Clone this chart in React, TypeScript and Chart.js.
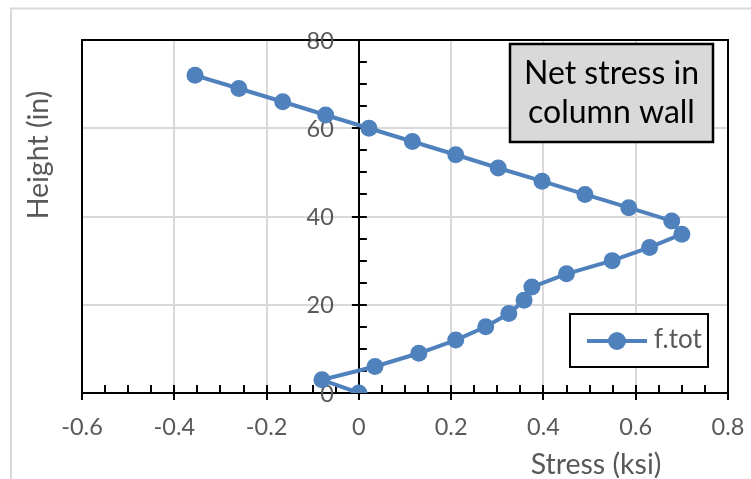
import React, { useEffect, useRef } from "react";
import { Chart, registerables } from "chart.js";

Chart.register(...registerables);

const heights = [0, 3, 6, 9, 12, 15, 18, 21, 24, 27, 30, 33, 36, 39, 42, 45, 48, 51, 54, 57, 60, 63, 66, 69, 72];
const stress = [0, -0.08, 0.035, 0.13, 0.21, 0.275, 0.325, 0.358, 0.375, 0.45, 0.549, 0.63, 0.7, 0.678, 0.585, 0.49, 0.397, 0.302, 0.21, 0.116, 0.022, -0.072, -0.165, -0.26, -0.355];

const xTickValues = [-0.6, -0.4, -0.2, 0, 0.2, 0.4, 0.6, 0.8];
const xTickLabels = ["-0.6", "-0.4", "-0.2", "0", "0.2", "0.4", "0.6", "0.8"];
const yTickValues = [0, 20, 40, 60, 80];
const yTickLabels = ["0", "20", "40", "60", "80"];
const xMinorStep = 0.05;
const yMinorStep = 5;

const seriesName = "f.tot";
const xTitle = "Stress (ksi)";
const yTitle = "Height (in)";
const titleLines = ["Net stress in", "column wall"];

const BLUE = "#4f81bd";
const GRID = "#d9d9d9";
const LABEL = "#595959";
const FONT = "Lato";
const TICK_SIZE = 23.5;

const decor = {
  id: "decor",
  beforeDraw(chart: any) {
    const ctx = chart.ctx;
    ctx.save();
    ctx.fillStyle = "#ffffff";
    ctx.fillRect(0, 0, chart.width, chart.height);
    ctx.strokeStyle = GRID;
    ctx.lineWidth = 2;
    ctx.beginPath();
    ctx.moveTo(11, chart.height);
    ctx.lineTo(11, 8.5);
    ctx.lineTo(chart.width, 8.5);
    ctx.stroke();
    ctx.restore();
  },
  beforeDatasetsDraw(chart: any) {
    const ctx = chart.ctx;
    const xs = chart.scales.x;
    const ys = chart.scales.y;
    const x0 = xs.getPixelForValue(0);
    const y0 = ys.getPixelForValue(0);
    const left = xs.getPixelForValue(xTickValues[0]);
    const right = xs.getPixelForValue(xTickValues[xTickValues.length - 1]);
    const top = ys.getPixelForValue(yTickValues[yTickValues.length - 1]);
    ctx.save();
    ctx.strokeStyle = "#000";
    ctx.lineWidth = 2;
    ctx.strokeRect(left, top, right - left, y0 - top);
    ctx.beginPath();
    const yMin = yTickValues[0];
    const yMax = yTickValues[yTickValues.length - 1];
    for (let v = yMin; v <= yMax + 1e-9; v += yMinorStep) {
      const p = Math.round(ys.getPixelForValue(v));
      const major = yTickValues.some((t) => Math.abs(t - v) < 1e-6);
      ctx.moveTo(major ? x0 - 7 : x0, p);
      ctx.lineTo(x0 + 8, p);
    }
    const xMin = xTickValues[0];
    const xMax = xTickValues[xTickValues.length - 1];
    const n = Math.round((xMax - xMin) / xMinorStep);
    for (let i = 0; i <= n; i++) {
      const v = xMin + i * xMinorStep;
      const p = Math.round(xs.getPixelForValue(v));
      const major = xTickValues.some((t) => Math.abs(t - v) < 1e-6);
      ctx.moveTo(p, y0 - 8);
      ctx.lineTo(p, major ? y0 + 7 : y0);
    }
    ctx.stroke();
    // y tick labels, left of the axis at x = 0
    ctx.fillStyle = LABEL;
    ctx.font = `${TICK_SIZE}px ${FONT}`;
    ctx.textAlign = "right";
    ctx.textBaseline = "middle";
    yTickValues.forEach((v, i) => {
      ctx.fillText(yTickLabels[i], x0 - 25, ys.getPixelForValue(v) + 1);
    });
    ctx.restore();
  },
  afterDraw(chart: any) {
    const ctx = chart.ctx;
    ctx.save();
    ctx.fillStyle = LABEL;
    ctx.font = `28.5px ${FONT}`;
    ctx.textAlign = "center";
    ctx.textBaseline = "middle";
    ctx.fillText(xTitle, 596, 465);
    ctx.save();
    ctx.translate(39, 155);
    ctx.rotate(-Math.PI / 2);
    ctx.fillText(yTitle, 0, 0);
    ctx.restore();

    // title box
    ctx.fillStyle = GRID;
    ctx.fillRect(510, 44, 203, 98);
    ctx.strokeStyle = "#000";
    ctx.lineWidth = 2.5;
    ctx.strokeRect(510, 44, 203, 98);
    ctx.fillStyle = "#000";
    ctx.font = `32px ${FONT}`;
    ctx.fillText(titleLines[0], 611.5, 74);
    ctx.fillText(titleLines[1], 611.5, 113);

    // legend
    ctx.fillStyle = "#fff";
    ctx.fillRect(570, 314, 138, 53);
    ctx.strokeStyle = "#000";
    ctx.lineWidth = 2;
    ctx.strokeRect(570, 314, 138, 53);
    ctx.strokeStyle = BLUE;
    ctx.lineWidth = 4;
    ctx.beginPath();
    ctx.moveTo(587, 341);
    ctx.lineTo(647, 341);
    ctx.stroke();
    ctx.fillStyle = BLUE;
    ctx.beginPath();
    ctx.arc(617, 341, 9, 0, Math.PI * 2);
    ctx.fill();
    ctx.fillStyle = LABEL;
    ctx.font = `26px ${FONT}`;
    ctx.textAlign = "left";
    ctx.fillText(seriesName, 654, 340);
    ctx.restore();
  },
};

export default function App() {
  const ref = useRef<HTMLCanvasElement>(null);
  useEffect(() => {
    if (!ref.current) return;
    const chart = new Chart(ref.current, {
      type: "line",
      data: {
        datasets: [
          {
            label: seriesName,
            data: heights.map((h, i) => ({ x: stress[i], y: h })),
            borderColor: BLUE,
            backgroundColor: BLUE,
            borderWidth: 4,
            pointRadius: 8.5,
            pointBackgroundColor: BLUE,
            pointBorderColor: BLUE,
            pointBorderWidth: 0,
            tension: 0,
          },
        ],
      },
      options: {
        animation: false,
        responsive: false,
        layout: { padding: { left: 82, right: 23, top: 40, bottom: 86 } },
        plugins: { legend: { display: false }, tooltip: { enabled: false } },
        scales: {
          x: {
            type: "linear",
            min: -0.6,
            max: 0.8,
            position: { y: 0 } as any,
            afterBuildTicks: (s: any) => {
              s.ticks = xTickValues.map((v) => ({ value: v }));
            },
            ticks: {
              color: LABEL,
              font: { family: FONT, size: TICK_SIZE, lineHeight: 2.95 },
              padding: 0,
              callback: (_v: any, i: number) => xTickLabels[i],
            },
            grid: { color: GRID, lineWidth: 2, drawTicks: false },
            border: { color: "#000", width: 2 },
          },
          y: {
            type: "linear",
            min: 0,
            max: 80,
            position: { x: 0 } as any,
            afterBuildTicks: (s: any) => {
              s.ticks = yTickValues.map((v) => ({ value: v }));
            },
            ticks: { display: false },
            grid: { color: GRID, lineWidth: 2, drawTicks: false },
            border: { color: "#000", width: 2 },
          },
        },
      },
      plugins: [decor],
    });
    return () => chart.destroy();
  }, []);
  return (
    <div style={{ position: "absolute", left: 0, top: 0, width: 751, height: 479 }}>
      <canvas ref={ref} width={751} height={479} style={{ display: "block" }} />
    </div>
  );
}
